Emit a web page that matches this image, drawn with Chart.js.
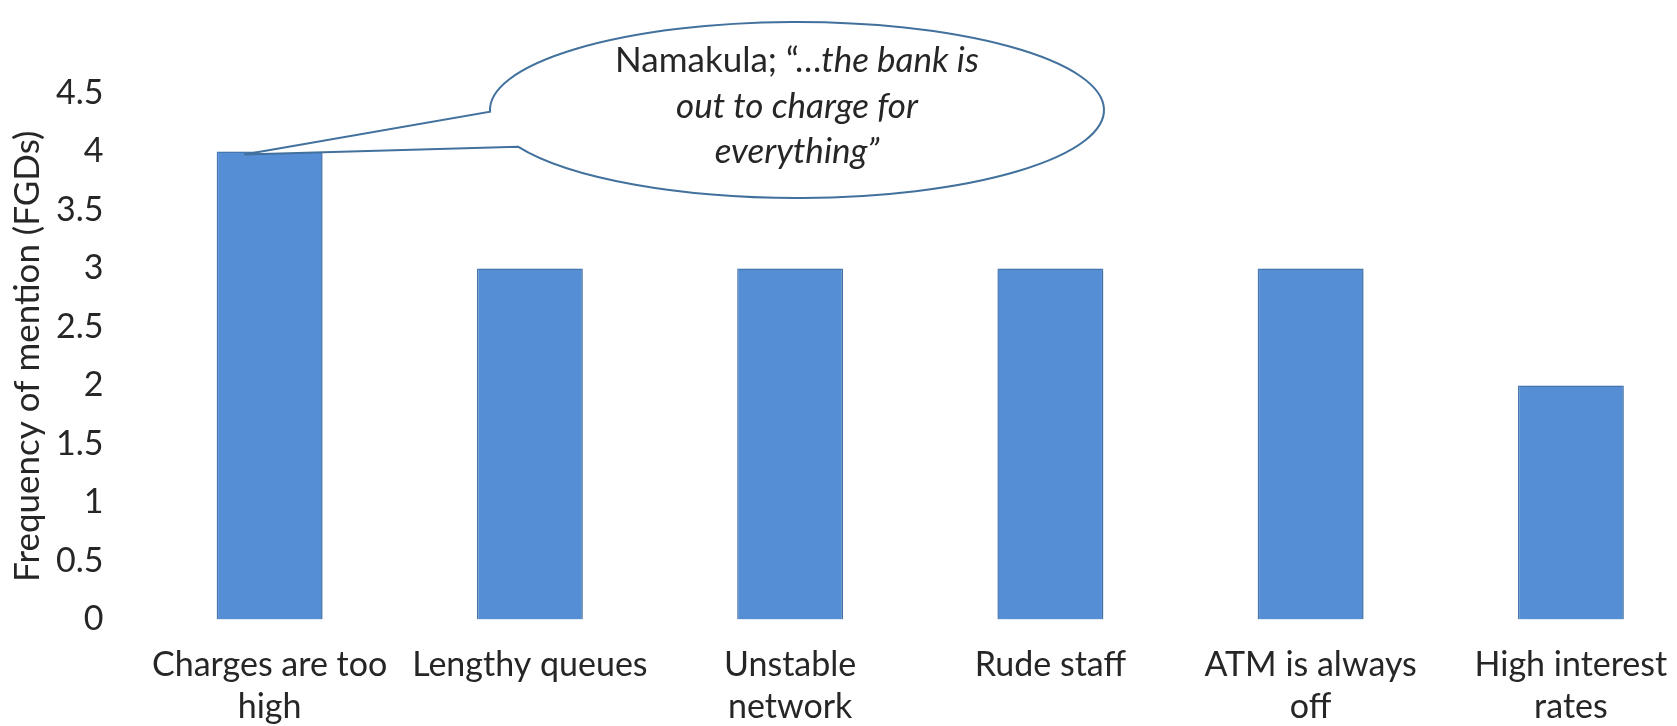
<!DOCTYPE html>
<html>
<head>
<meta charset="utf-8">
<script src="https://cdn.jsdelivr.net/npm/chart.js@4.4.1/dist/chart.umd.min.js"></script>
<style>
    html, body { margin: 0; padding: 0; background: #fff; overflow: hidden; }
    #wrap { position: relative; width: 1701px; height: 726px; }
</style>
</head>
<body>
<div id="wrap"><canvas id="barChart"></canvas></div>
<script>
/* =====================================================================
   CHART DATA
 ===================================================================== */
const categories = [
    ['Charges are too', 'high'],
    'Lengthy queues',
    ['Unstable', 'network'],
    'Rude staff',
    ['ATM is always', 'off'],
    ['High interest', 'rates']
];
const mentions = [4, 3, 3, 3, 3, 2];
const yTickLabels = ['0', '0.5', '1', '1.5', '2', '2.5', '3', '3.5', '4', '4.5'];

const FONT = 'Lato, "Open Sans", sans-serif';
const TEXT = '#262626';

// speech bubble pointing at the first bar
const callout = {
    id: 'callout',
    afterDatasetsDraw(chart) {
        const bar = chart.getDatasetMeta(0).data[0];
        if (!bar) return;
        const c = chart.ctx;
        const tipX = bar.x - bar.width * 0.24;
        const tipY = bar.y + 3;

        const cx = 797, cy = 110, rx = 307, ry = 88;
        const a1 = Math.PI - 0.02;          // upper wedge base (left of ellipse)
        const a2 = Math.PI - 0.43;          // lower wedge base

        c.save();
        c.beginPath();
        c.ellipse(cx, cy, rx, ry, 0, a1, a2 + 2 * Math.PI, false);
        c.lineTo(tipX, tipY);
        c.closePath();
        c.fillStyle = '#fff';
        c.fill();
        c.lineWidth = 2;
        c.strokeStyle = '#41719C';
        c.stroke();

        c.fillStyle = TEXT;
        c.textBaseline = 'middle';
        c.textAlign = 'left';
        const size = 35;
        const norm = `${size}px ${FONT}`;
        const ital = `italic ${size}px ${FONT}`;
        const p1 = 'Namakula; “…';
        const p2 = 'the bank is';
        c.font = norm;
        const w1 = c.measureText(p1).width;
        c.font = ital;
        const w2 = c.measureText(p2).width;
        let x = cx - (w1 + w2) / 2;
        c.font = norm;
        c.fillText(p1, x, 61);
        c.font = ital;
        c.fillText(p2, x + w1, 61);
        c.textAlign = 'center';
        c.fillText('out to charge for', cx, 107);
        c.fillText('everything”', cx, 152);
        c.restore();
    }
};

// faint drop shadow under the bars
const barShadow = {
    id: 'barShadow',
    beforeDatasetsDraw(chart) {
        const c = chart.ctx;
        c.save();
        c.shadowColor = 'rgba(0,0,0,0.22)';
        c.shadowBlur = 5;
        c.shadowOffsetX = 1;
        c.shadowOffsetY = 1;
    },
    afterDatasetsDraw(chart) {
        chart.ctx.restore();
    }
};

new Chart(document.getElementById('barChart'), {
    type: 'bar',
    data: {
        labels: categories,
        datasets: [{
            data: mentions,
            backgroundColor: '#558ED5',
            borderColor: '#4A7EBB',
            borderWidth: 1.5,
            categoryPercentage: 1,
            barPercentage: 0.407
        }]
    },
    options: {
        responsive: true,
        maintainAspectRatio: false,
        animation: false,
        layout: { padding: { top: 93, left: 0, right: 0, bottom: 0 } },
        plugins: {
            legend: { display: false },
            tooltip: { enabled: false }
        },
        scales: {
            x: {
                grid: { display: false, drawTicks: false },
                border: { display: false },
                ticks: {
                    color: TEXT,
                    font: { family: FONT, size: 34, lineHeight: 1.24 },
                    padding: 24,
                    maxRotation: 0,
                    autoSkip: false
                },
                afterFit: (s) => { s.height = 106.5; }
            },
            y: {
                min: 0,
                max: 4.5,
                grid: { display: false, drawTicks: false },
                border: { display: false },
                ticks: {
                    stepSize: 0.5,
                    color: TEXT,
                    font: { family: FONT, size: 34 },
                    padding: 36,
                    callback: (v, i) => yTickLabels[i]
                },
                title: {
                    display: true,
                    text: 'Frequency of mention (FGDs)',
                    color: TEXT,
                    font: { family: FONT, size: 35 },
                    padding: { top: 7, bottom: 0 }
                },
                afterFit: (s) => { s.width = 139.5; }
            }
        }
    },
    plugins: [barShadow, callout]
});
</script>
</body>
</html>
